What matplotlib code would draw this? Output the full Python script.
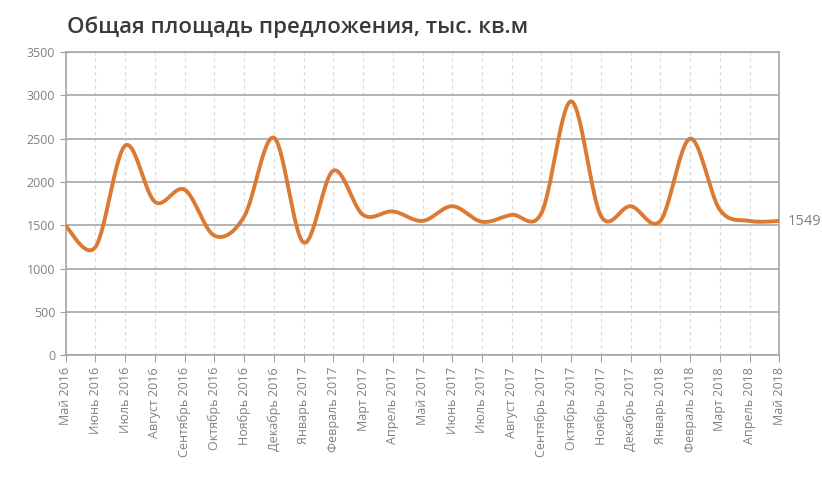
import numpy as np
import matplotlib.pyplot as plt

months = ['Май 2016', 'Июнь 2016', 'Июль 2016', 'Август 2016', 'Сентябрь 2016',
          'Октябрь 2016', 'Ноябрь 2016', 'Декабрь 2016', 'Январь 2017', 'Февраль 2017',
          'Март 2017', 'Апрель 2017', 'Май 2017', 'Июнь 2017', 'Июль 2017',
          'Август 2017', 'Сентябрь 2017', 'Октябрь 2017', 'Ноябрь 2017', 'Декабрь 2017',
          'Январь 2018', 'Февраль 2018', 'Март 2018', 'Апрель 2018', 'Май 2018']
area = [1490, 1250, 2420, 1770, 1910, 1380, 1600, 2510, 1300, 2130,
        1620, 1660, 1550, 1720, 1540, 1620, 1640, 2930, 1610, 1720,
        1550, 2500, 1680, 1550, 1549]


def smooth(x, y, n=30):
    # cubic bezier through points, tangents like a Catmull-Rom spline
    x = np.asarray(x, float)
    y = np.asarray(y, float)
    px = np.concatenate([[x[0]], x, [x[-1]]])
    py = np.concatenate([[y[0]], y, [y[-1]]])
    t = np.linspace(0, 1, n)[:, None]
    xs, ys = [], []
    for i in range(1, len(px) - 2):
        p0 = np.array([px[i], py[i]])
        p3 = np.array([px[i + 1], py[i + 1]])
        c1 = p0 + (np.array([px[i + 1], py[i + 1]]) - np.array([px[i - 1], py[i - 1]])) / 6
        c2 = p3 - (np.array([px[i + 2], py[i + 2]]) - np.array([px[i], py[i]])) / 6
        b = (1 - t) ** 3 * p0 + 3 * (1 - t) ** 2 * t * c1 + 3 * (1 - t) * t ** 2 * c2 + t ** 3 * p3
        xs.append(b[:, 0])
        ys.append(b[:, 1])
    return np.concatenate(xs), np.concatenate(ys)


plt.rcParams['font.family'] = ['Open Sans', 'DejaVu Sans']
fig = plt.figure(figsize=(8.22, 4.9), dpi=100)
ax = fig.add_axes([0.080, 0.275, 0.868, 0.619])

x = np.arange(len(months))
sx, sy = smooth(x, area)
ax.plot(sx, sy, color='#DC7A33', linewidth=2.8, solid_capstyle='round', zorder=3)

ax.set_xlim(0, len(months) - 1)
ax.set_ylim(0, 3500)
ax.set_yticks(np.arange(0, 3501, 500))
ax.set_xticks(x)
ax.set_xticklabels(months, rotation=90, fontsize=9, color='#808080')
ax.tick_params(axis='y', labelsize=9, colors='#808080', length=4, color='#a0a0a0')
ax.tick_params(axis='x', colors='#808080', length=5, color='#a0a0a0')

ax.grid(axis='y', color='#a6a6a6', linewidth=1.2)
ax.grid(axis='x', color='#d9d9d9', linewidth=0.8, linestyle=(0, (3, 3)))
ax.set_axisbelow(True)
for s in ax.spines.values():
    s.set_color('#a6a6a6')
    s.set_linewidth(1.2)

ax.annotate(str(area[-1]), xy=(x[-1], area[-1]), xytext=(6, 0), textcoords='offset points',
            va='center', ha='left', fontsize=10.5, color='#808080', annotation_clip=False)

fig.text(0.082, 0.945, 'Общая площадь предложения, тыс. кв.м', fontsize=16,
         color='#3a3a3a', ha='left', va='center', fontweight='semibold')

fig.savefig('out.png', dpi=100)
